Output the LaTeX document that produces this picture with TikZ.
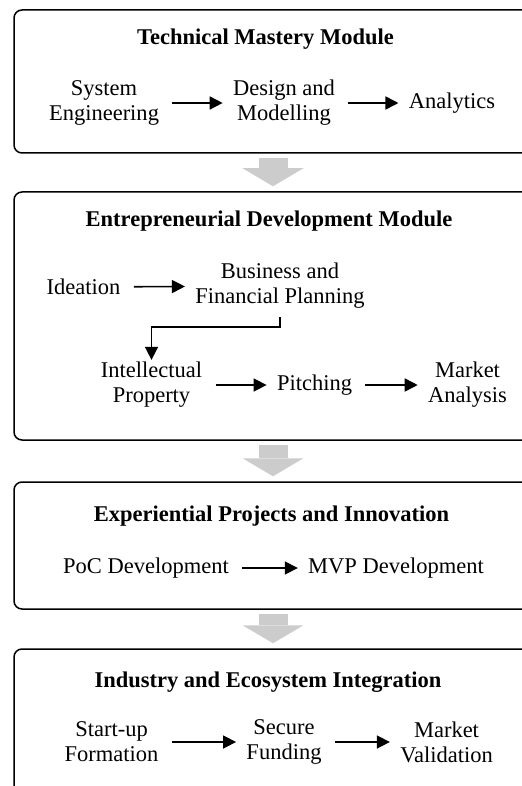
\documentclass[tikz,border=0pt]{standalone}
\usepackage{fontspec}
\setmainfont{Liberation Serif}
\usetikzlibrary{arrows.meta}

\definecolor{stagegray}{RGB}{204,204,204}

\tikzset{
    module/.style={rectangle, draw, rounded corners=4pt, line width=0.75pt, minimum width=259pt},
    headline/.style={font=\bfseries\fontsize{11.25pt}{12.5pt}\selectfont, anchor=base},
    task/.style={align=center, inner sep=4pt, font=\fontsize{11.25pt}{12.5pt}\selectfont},
    flow/.style={-{Triangle[length=6.5pt,width=6.5pt]}, line width=0.8pt, shorten <=2.5pt, shorten >=1pt},
    stage/.style={stagegray, line width=14.5pt, -{Triangle[length=9pt,width=30.5pt,line width=0pt]}, shorten <=2pt, shorten >=2.5pt}
}

\begin{document}
\begin{tikzpicture}[x=0.5pt, y=-0.5pt]
    \useasboundingbox (0,0) rectangle (522,786);
    \clip (0,0) rectangle (522,786);

    \node [module, minimum height=71.5pt] (m1) at (273,81.5) {};
    \node [module, minimum height=124pt] (m2) at (273,316) {};
    \node [module, minimum height=63.5pt] (m3) at (273,545.5) {};
    \node [module, minimum height=90.5pt] (m4) at (273,739.5) {};

    \draw[stage] (m1.south) -- (m2.north);
    \draw[stage] (m2.south) -- (m3.north);
    \draw[stage] (m3.south) -- (m4.north);

    \node [headline] (t1) at (265.5,45) {Technical Mastery Module};
    \node [task] (se) at (104,103) {System\\Engineering};
    \node [task] (dm) at (284,103) {Design and\\Modelling};
    \node [task] (an) at (452,103) {Analytics};

    \node [headline] (t2) at (269,227) {Entrepreneurial Development Module};
    \node [task] (id) at (83.5,287) {Ideation};
    \node [task] (bfp) at (280,286) {Business and\\Financial Planning};
    \node [task] (ip) at (151.5,385) {Intellectual\\Property};
    \node [task] (pi) at (314.5,385) {Pitching};
    \node [task] (ma) at (467.5,385) {Market\\Analysis};
    \coordinate (bend) at (280,327);

    \node [headline] (t3) at (271.5,521) {Experiential Projects and Innovation};
    \node [task] (poc) at (146,568) {PoC Development};
    \node [task] (mvp) at (396,568) {MVP Development};

    \node [headline] (t4) at (268,687) {Industry and Ecosystem Integration};
    \node [task] (suf) at (111.5,742) {Start-up\\Formation};
    \node [task] (sf) at (284,742) {Secure\\Funding};
    \node [task] (mv) at (446.5,742) {Market\\Validation};

    \draw[flow] (se) -- (dm);
    \draw[flow] (dm) -- (an);
    \draw[flow] (id) -- (bfp);
    \draw[flow, shorten <=0pt, shorten >=-3pt] (bfp.south) -- (bend) -| (ip.north);
    \draw[flow] (ip) -- (pi);
    \draw[flow] (pi) -- (ma);
    \draw[flow] (poc) -- (mvp);
    \draw[flow] (suf) -- (sf);
    \draw[flow] (sf) -- (mv);
\end{tikzpicture}
\end{document}
